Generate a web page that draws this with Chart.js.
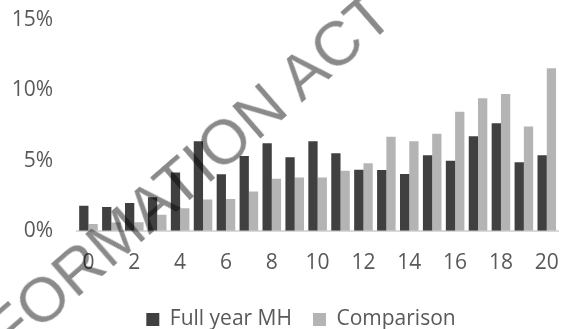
<!DOCTYPE html>
<html>
<head>
<meta charset="utf-8">
<script src="https://cdn.jsdelivr.net/npm/chart.js@4"></script>
<style>
  body { margin: 0; background: #fff; }
  #wrap { position: relative; width: 579px; height: 329px; overflow: hidden; }
  #watermark {
    position: absolute;
    left: 165px;
    top: 193px;
    transform: translate(-50%, -50%) rotate(-41deg);
    font: 63px "Liberation Sans", Arial, sans-serif;
    line-height: 1;
    white-space: nowrap;
    color: rgba(0, 0, 0, 0.46);
    pointer-events: none;
  }
</style>
</head>
<body>
<div id="wrap">
  <canvas id="chart"></canvas>
  <div id="watermark">INFORMATION ACT</div>
</div>
<script>
const categories = ["0", "1", "2", "3", "4", "5", "6", "7", "8", "9", "10",
  "11", "12", "13", "14", "15", "16", "17", "18", "19", "20"];
const fullYearMH = [1.78, 1.69, 1.97, 2.39, 4.14, 6.37, 4.03, 5.33, 6.23, 5.24, 6.37,
  5.52, 4.34, 4.32, 4.05, 5.38, 4.98, 6.73, 7.65, 4.88, 5.38];
const comparison = [0.48, 0.59, 0.6, 1.14, 1.61, 2.23, 2.27, 2.79, 3.7, 3.79, 3.79,
  4.27, 4.81, 6.7, 6.37, 6.9, 8.48, 9.43, 9.74, 7.42, 11.56];
const yTicks = [0, 5, 10, 15];

const textColor = "#595959";
const font = { family: "'Open Sans', sans-serif", size: 21 };

// legend sits a bit right of the canvas centre in the original
const legendShift = {
  id: "legendShift",
  afterLayout(chart) {
    chart.legend.left += 16;
    chart.legend.right += 16;
  }
};

new Chart(document.getElementById("chart"), {
  type: "bar",
  data: {
    labels: categories,
    datasets: [
      { label: "Full year MH", data: fullYearMH, backgroundColor: "#404040" },
      { label: "Comparison", data: comparison, backgroundColor: "#b4b4b4" }
    ]
  },
  options: {
    responsive: true,
    maintainAspectRatio: false,
    animation: false,
    categoryPercentage: 0.81,
    barPercentage: 1,
    layout: { padding: { top: 20, right: 9, left: 0, bottom: -11 } },
    plugins: {
      legend: {
        position: "bottom",
        labels: {
          color: textColor,
          font: font,
          boxWidth: 13,
          boxHeight: 13,
          padding: 21
        }
      },
      tooltip: { enabled: false }
    },
    scales: {
      x: {
        grid: { display: false, drawTicks: false },
        border: { display: true, color: "#d9d9d9", width: 2 },
        afterFit: scale => { scale.height -= 8; },
        ticks: {
          color: textColor,
          font: font,
          maxRotation: 0,
          autoSkip: false,
          padding: 20,
          callback: (v, i) => (i % 2 === 0 ? categories[i] : "")
        }
      },
      y: {
        min: 0,
        max: 15,
        afterFit: scale => {
          scale.width = 77;
          scale.paddingTop = 0;
          scale.paddingBottom = 0;
        },
        afterBuildTicks: scale => { scale.ticks = yTicks.map(v => ({ value: v })); },
        grid: { display: false, drawTicks: false },
        border: { display: false },
        ticks: {
          color: textColor,
          font: font,
          padding: 24,
          callback: v => v + "%"
        }
      }
    }
  },
  plugins: [legendShift]
});
</script>
</body>
</html>
